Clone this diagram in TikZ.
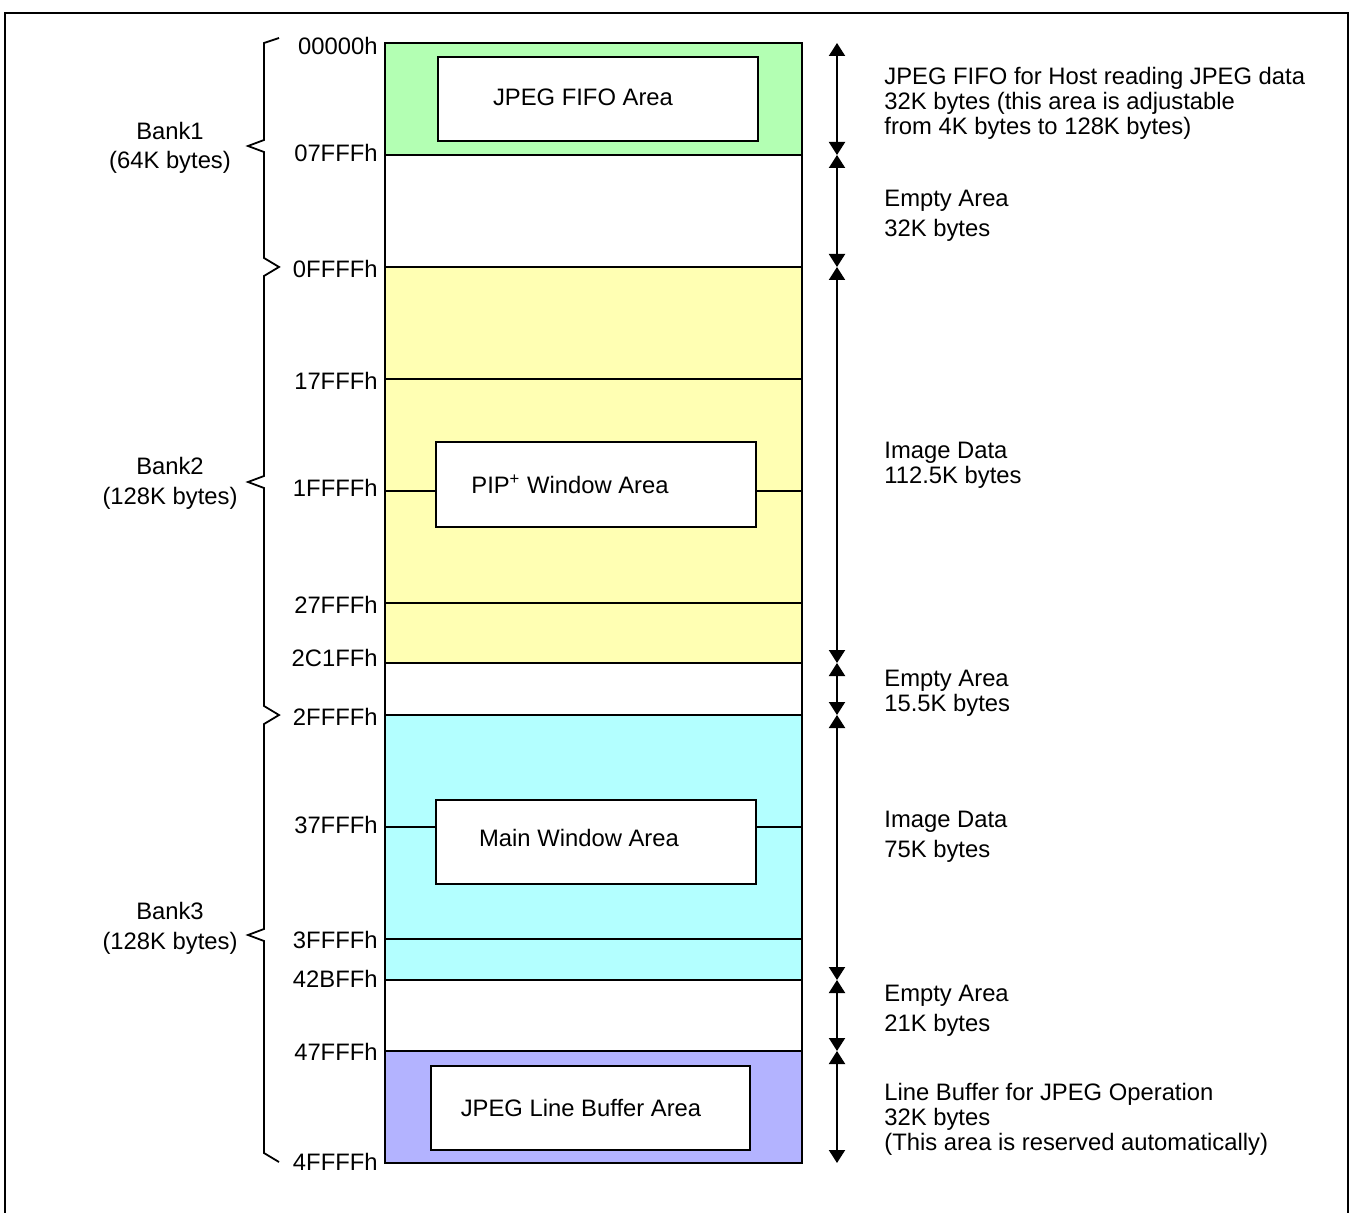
\documentclass[tikz,border=0pt]{standalone}
\usepackage{fontspec}
\setmainfont{Liberation Sans}
\usetikzlibrary{arrows.meta}

\definecolor{fifogreen}{RGB}{179,255,179}
\definecolor{pipyellow}{RGB}{255,255,179}
\definecolor{maincyan}{RGB}{179,255,255}
\definecolor{linebufblue}{RGB}{179,179,255}

\tikzset{
  txt/.style={inner sep=0pt,font=\fontsize{11.9}{12.5}\selectfont},
  addr/.style={txt,anchor=east},
  info/.style={txt,anchor=west,align=left},
  bank/.style={txt,align=center},
  rowline/.style={line width=1pt},
  areabox/.style={line width=1pt,fill=white},
  sizearrow/.style={line width=1pt,{Triangle[length=6.5pt,width=8pt]}-{Triangle[length=6.5pt,width=8pt]}},
}

\begin{document}
\begin{tikzpicture}[x=0.5pt,y=-0.5pt]
        \useasboundingbox (0,0) rectangle (1354,1213);

        % --- FRAME ---
        \draw[line width=0.75pt] (5,1213) -- (5,13) -- (1348,13) -- (1348,1213);

        % --- MEMORY COLUMN ---
        \fill[fifogreen] (385,43) rectangle (802,155);
        \fill[pipyellow] (385,267) rectangle (802,663);
        \fill[maincyan] (385,715) rectangle (802,980);
        \fill[linebufblue] (385,1051) rectangle (802,1163);

        \draw[rowline] (385,155) -- (802,155);
        \draw[rowline] (385,267) -- (802,267);
        \draw[rowline] (385,379) -- (802,379);
        \draw[rowline] (385,491) -- (802,491);
        \draw[rowline] (385,603) -- (802,603);
        \draw[rowline] (385,663) -- (802,663);
        \draw[rowline] (385,715) -- (802,715);
        \draw[rowline] (385,827) -- (802,827);
        \draw[rowline] (385,939) -- (802,939);
        \draw[rowline] (385,980) -- (802,980);
        \draw[rowline] (385,1051) -- (802,1051);
        \draw[rowline] (385,43) rectangle (802,1163);

        % areas inside the column
        \draw[areabox] (438,57) rectangle (758,141);
        \node[txt] (fifo) at (583,97) {JPEG FIFO Area};
        \draw[areabox] (436,442) rectangle (756,527);
        \node[txt] (pip) at (570,484) {PIP\textsuperscript{+} Window Area};
        \draw[areabox] (436,800) rectangle (756,884);
        \node[txt] (mainwin) at (579,838) {Main Window Area};
        \draw[areabox] (431,1066) rectangle (750,1150);
        \node[txt] (linebuf) at (581,1108) {JPEG Line Buffer Area};

        % --- ADDRESSES ---
        \node[addr] (a00000) at (378,46) {00000h};
        \node[addr] (a07FFF) at (378,153) {07FFFh};
        \node[addr] (a0FFFF) at (378,269) {0FFFFh};
        \node[addr] (a17FFF) at (378,381) {17FFFh};
        \node[addr] (a1FFFF) at (378,488) {1FFFFh};
        \node[addr] (a27FFF) at (378,605) {27FFFh};
        \node[addr] (a2C1FF) at (378,658) {2C1FFh};
        \node[addr] (a2FFFF) at (378,717) {2FFFFh};
        \node[addr] (a37FFF) at (378,825) {37FFFh};
        \node[addr] (a3FFFF) at (378,940) {3FFFFh};
        \node[addr] (a42BFF) at (378,979) {42BFFh};
        \node[addr] (a47FFF) at (378,1052) {47FFFh};
        \node[addr] (a4FFFF) at (378,1162) {4FFFFh};

        % --- BANK BRACES ---
        \draw[line width=0.9pt,line join=miter]
            (279,38) -- (264,43) -- (264,140) -- (248,146) -- (264,152)
            -- (264,258) -- (279,267) -- (264,276)
            -- (264,476) -- (248,482) -- (264,488)
            -- (264,706) -- (279,715) -- (264,724)
            -- (264,929) -- (248,935) -- (264,941)
            -- (264,1153) -- (279,1162);
        \node[bank] (bank1) at (170,148) {Bank1\\[2pt](64K bytes)};
        \node[bank] (bank2) at (170,483) {Bank2\\[2.5pt](128K bytes)};
        \node[bank] (bank3) at (170,928) {Bank3\\[2.5pt](128K bytes)};

        % --- SIZE ARROWS ---
        \coordinate (s0) at (837,43);
        \coordinate (s1) at (837,155);
        \coordinate (s2) at (837,267);
        \coordinate (s3) at (837,663);
        \coordinate (s4) at (837,715);
        \coordinate (s5) at (837,980);
        \coordinate (s6) at (837,1051);
        \coordinate (s7) at (837,1163);
        \draw[sizearrow] (s0) -- (s1);
        \draw[sizearrow] (s1) -- (s2);
        \draw[sizearrow] (s2) -- (s3);
        \draw[sizearrow] (s3) -- (s4);
        \draw[sizearrow] (s4) -- (s5);
        \draw[sizearrow] (s5) -- (s6);
        \draw[sizearrow] (s6) -- (s7);

        % --- DESCRIPTIONS ---
        \node[info] (fifotxt) at (884,103) {JPEG FIFO for Host reading JPEG data\\32K bytes (this area is adjustable\\from 4K bytes to 128K bytes)};
        \node[info] (empty1) at (884,216) {Empty Area\\[2.5pt]32K bytes};
        \node[info] (image1) at (884,465) {Image Data\\112.5K bytes};
        \node[info] (empty2) at (884,693) {Empty Area\\15.5K bytes};
        \node[info] (image2) at (884,837) {Image Data\\[2.5pt]75K bytes};
        \node[info] (empty3) at (884,1011) {Empty Area\\[2.5pt]21K bytes};
        \node[info] (linebuftxt) at (884,1119) {Line Buffer for JPEG Operation\\32K bytes\\(This area is reserved automatically)};
    \end{tikzpicture}
\end{document}
